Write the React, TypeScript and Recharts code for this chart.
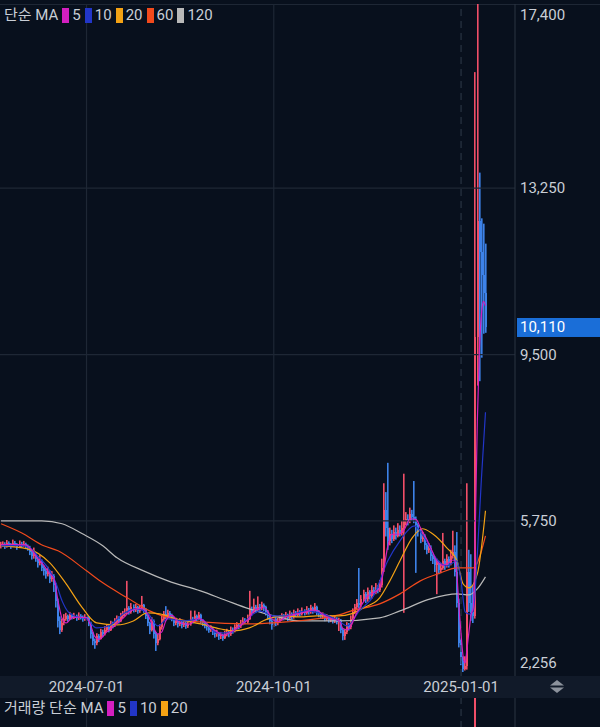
import React from 'react';
import { ComposedChart, Bar, Line, XAxis, YAxis, ReferenceLine } from 'recharts';

// ---------- categories (calendar days, crypto market trades daily) ----------
const START = Date.UTC(2024, 4, 20);
const TOTAL_DAYS = 253; // includes empty days on the right
const dates: string[] = Array.from({ length: TOTAL_DAYS }, (_, i) =>
  new Date(START + i * 86400000).toISOString().slice(0, 10)
);
const xTickDates = ['2024-07-01', '2024-10-01', '2025-01-01'];

// ---------- price series (KRW) ----------
const firstOpen = 5180;
const closes = [
  5200, 5230, 5180, 5250, 5210, 5190, 5260, 5220, 5170, 5240, 5200, 5230, 5180,
  5150, 5050, 4950, 5000, 4900, 4800, 4850, 4700, 4620, 4550, 4600, 4450, 4500, 4300,
  3950, 3500, 3300, 3450, 3550,
  3600, 3550, 3620, 3580, 3600, 3560, 3610, 3580, 3540, 3580, 3560,
  3450, 3200, 3050, 3000, 3150,
  3100, 3250, 3200, 3300, 3350, 3300, 3420, 3400, 3480, 3550, 3500, 3600, 3650, 3700, 3780,
  3700, 3820, 3750, 3800, 3720, 3780, 3850, 3750,
  3600, 3450, 3300, 3500, 3200, 3000, 3100,
  3350, 3550, 3650, 3600, 3680, 3620,
  3550, 3450, 3500, 3420, 3480, 3400, 3450, 3380, 3420, 3550, 3500, 3600, 3550, 3620, 3500,
  3450, 3400, 3350, 3300, 3320, 3250, 3200, 3220, 3150, 3180, 3120, 3200,
  3250, 3200, 3300, 3280, 3350, 3400, 3380, 3450, 3500, 3480, 3550,
  3750, 3700, 3800, 3750, 3820, 3780, 3850, 3800, 3700, 3600,
  3500, 3400, 3550, 3450, 3500,
  3550, 3600, 3580, 3620, 3560, 3650, 3600, 3680, 3640, 3700, 3660, 3720, 3680, 3750, 3700, 3780, 3720, 3800, 3700,
  3650, 3600, 3620, 3550, 3580, 3520, 3560, 3500, 3540, 3480, 3500,
  3300, 3150, 3250, 3400, 3350,
  3550, 3700, 3800, 3900, 3850, 4000, 4100, 3980, 4150, 4050, 4200, 4150, 4250, 4200, 4300,
  4700, 6000, 5600, 5300,
  5450, 5350, 5500, 5420, 5550, 5480, 5600,
  5750,
  5800, 5750, 5900, 5850, 5800, 5650,
  5500, 5350, 5400, 5200, 5100, 5150, 4950, 4900,
  4750, 4800, 4650, 4700,
  4850, 4750, 4900, 4800, 4950, 5050,
  4600, 3900, 3000, 2600, 2420, 2480, 4600, 3900, 3700, 3600, 9900, 12500, 11800, 11300, 10880, 10110,
];
const highs = [
  5280, 5290, 5270, 5320, 5290, 5250, 5330, 5300, 5250, 5310, 5280, 5300, 5260,
  5220, 5190, 5090, 5150, 5050, 4950, 4980, 4880, 4750, 4680, 4720, 4640, 4620, 4550,
  4350, 4000, 3600, 3550, 3650,
  3680, 3640, 3700, 3660, 3680, 3640, 3690, 3650, 3620, 3650, 3620,
  3600, 3480, 3250, 3100, 3220,
  3200, 3320, 3300, 3380, 3420, 3400, 3500, 3480, 3560, 3620, 3600, 3680, 3720, 3780, 4400,
  3830, 3900, 3870, 3880, 3840, 3860, 4060, 3880,
  3790, 3630, 3480, 3580, 3530, 3250, 3200,
  3420, 3620, 3720, 3830, 3750, 3720,
  3660, 3590, 3570, 3540, 3560, 3520, 3520, 3480, 3500, 3730, 3590, 3730, 3640, 3700, 3660,
  3540, 3490, 3440, 3390, 3400, 3360, 3290, 3300, 3250, 3250, 3210, 3270,
  3320, 3290, 3370, 3350, 3420, 3470, 3450, 3520, 3580, 3560, 3640,
  4175, 3820, 4000, 3860, 4050, 3880, 3930, 3890, 3840, 3740,
  3640, 3540, 3620, 3590, 3570,
  3620, 3670, 3650, 3700, 3660, 3730, 3690, 3750, 3720, 3780, 3740, 3800, 3760, 3830, 3790, 3860, 3820, 3900, 3840,
  3740, 3690, 3690, 3660, 3650, 3620, 3630, 3600, 3610, 3580, 3570,
  3540, 3340, 3320, 3470, 3450,
  3620, 3780, 3880, 3990, 4690, 4080, 4200, 4150, 4250, 4190, 4300, 4260, 4350, 4300, 4420,
  4900, 6600, 6400, 7060,
  5600, 5550, 5650, 5600, 5700, 5650, 5750,
  6815,
  5950, 5900, 6050, 6000, 6650, 5850,
  5700, 5560, 5500, 5450, 5250, 5250, 5200, 5000,
  4950, 4900, 4850, 4800,
  5480, 4900, 5000, 4950, 5100, 5530,
  5200, 5500, 4000, 3100, 2700, 2700, 6600, 5100, 5000, 4300, 15865, 17400, 13600, 12570, 12450, 12000,
];
const lows = [
  5130, 5170, 5120, 5150, 5170, 5120, 5160, 5170, 5100, 5140, 5150, 5170, 5120,
  5080, 4980, 4880, 4900, 4830, 4700, 4750, 4620, 4520, 4450, 4500, 4350, 4380, 4150,
  3800, 3350, 3200, 3250, 3400,
  3500, 3480, 3520, 3530, 3540, 3500, 3520, 3530, 3480, 3500, 3500,
  3380, 3100, 2950, 2870, 2950,
  3020, 3080, 3130, 3170, 3250, 3240, 3270, 3330, 3360, 3430, 3440, 3470, 3560, 3600, 3650,
  3640, 3660, 3690, 3700, 3660, 3680, 3740, 3680,
  3540, 3380, 3200, 3260, 3100, 2820, 2950,
  3060, 3300, 3500, 3540, 3560, 3560,
  3490, 3380, 3400, 3350, 3380, 3330, 3360, 3320, 3340, 3390, 3440, 3460, 3490, 3510, 3440,
  3380, 3330, 3280, 3230, 3250, 3180, 3120, 3140, 3070, 3090, 3050, 3090,
  3150, 3130, 3160, 3210, 3240, 3300, 3310, 3340, 3400, 3420, 3440,
  3520, 3620, 3660, 3680, 3700, 3710, 3740, 3720, 3620, 3520,
  3420, 3300, 3360, 3380, 3400,
  3450, 3500, 3510, 3530, 3490, 3510, 3530, 3550, 3580, 3590, 3600, 3620, 3620, 3640, 3640, 3660, 3660, 3690, 3630,
  3580, 3540, 3540, 3490, 3500, 3460, 3470, 3440, 3450, 3420, 3270,
  3220, 3060, 3070, 3200, 3280,
  3310, 3500, 3650, 3750, 3780, 3800, 3940, 3900, 3930, 3980, 4000, 4080, 4100, 4120, 4150,
  4250, 4600, 5400, 5100,
  5200, 5250, 5300, 5330, 5380, 5400, 5420,
  3680,
  5650, 5650, 5700, 5750, 5700, 4580,
  5400, 5250, 5280, 5100, 5000, 5030, 4850, 4780,
  4600, 4100, 4550, 4580,
  4650, 4650, 4700, 4700, 4750, 4900,
  4500, 3800, 2900, 2500, 2346, 2380, 2400, 3700, 3500, 3450, 3550, 8800, 8900, 9430, 9970, 9990,
];

// ---------- moving averages: [day index, value] ----------
const ma5Pts: [number, number][] = [
  [0, 5220], [6, 5220], [12, 5210], [15, 5100], [18, 4900], [21, 4750], [24, 4550], [26, 4450],
  [28, 3950], [30, 3550], [32, 3450], [35, 3570], [38, 3580], [42, 3570], [44, 3400], [46, 3150],
  [48, 3080], [52, 3250], [56, 3400], [60, 3560], [63, 3700], [66, 3760], [69, 3780], [72, 3650],
  [74, 3450], [77, 3200], [79, 3250], [81, 3500], [84, 3620], [87, 3480], [92, 3420], [95, 3500],
  [97, 3560], [100, 3480], [103, 3350], [106, 3260], [109, 3170], [113, 3250], [116, 3340],
  [119, 3450], [122, 3560], [124, 3720], [127, 3780], [129, 3800], [131, 3720], [133, 3550],
  [136, 3480], [140, 3590], [146, 3660], [150, 3700], [153, 3740], [156, 3720], [158, 3640],
  [161, 3570], [164, 3530], [166, 3510], [168, 3320], [170, 3300], [172, 3390], [174, 3610],
  [177, 3850], [180, 4050], [183, 4130], [186, 4230], [188, 4650], [190, 5180], [192, 5450],
  [195, 5450], [198, 5550], [201, 5800], [204, 5780], [206, 5600], [209, 5350], [212, 5050],
  [214, 4850], [217, 4750], [220, 4810], [222, 4870], [223, 4850], [224, 4500], [225, 3800],
  [226, 3200], [227, 2700], [228, 2550], [229, 2900], [230, 3300], [231, 3650], [232, 3800],
  [233, 5600], [234, 8000], [235, 9600], [236, 10400], [237, 10700], [238, 10600],
];
const ma10Pts: [number, number][] = [
  [0, 5190], [10, 5200], [14, 5150], [18, 4964], [24, 4626], [27, 4350], [30, 3949], [33, 3700],
  [36, 3610], [42, 3542], [47, 3339], [53, 3384], [60, 3655], [66, 3768], [72, 3678], [77, 3384],
  [82, 3542], [90, 3497], [98, 3542], [106, 3226], [112, 3226], [120, 3497], [127, 3723],
  [134, 3610], [140, 3610], [150, 3723], [158, 3655], [166, 3497], [170, 3384], [176, 3723],
  [183, 4062], [190, 4852], [196, 5303], [203, 5641], [208, 5371], [214, 4896], [219, 4739],
  [224, 4852], [226, 4400], [228, 3700], [230, 3650], [232, 3723], [234, 5000], [236, 6700],
  [238, 8200],
];
const ma20Pts: [number, number][] = [
  [0, 5190], [13, 5122], [24, 4806], [32, 4332], [40, 3791], [47, 3452], [57, 3407], [65, 3497],
  [72, 3678], [78, 3655], [86, 3542], [98, 3429], [108, 3316], [114, 3271], [122, 3339],
  [131, 3542], [139, 3610], [147, 3587], [155, 3610], [166, 3610], [172, 3655], [178, 3791],
  [186, 4017], [191, 4400], [196, 4852], [202, 5371], [207, 5574], [212, 5460], [219, 5145],
  [224, 4852], [227, 4332], [230, 4242], [234, 4558], [238, 5979],
];
const ma60Pts: [number, number][] = [
  [0, 5686], [10, 5483], [21, 5190], [28, 5077], [42, 4626], [50, 4355], [62, 4017], [73, 3723],
  [85, 3542], [98, 3474], [122, 3429], [140, 3474], [166, 3632], [172, 3723], [186, 3881],
  [196, 4107], [206, 4400], [216, 4580], [224, 4693], [232, 4693], [238, 5415],
];
const ma120Pts: [number, number][] = [
  [0, 5754], [20, 5754], [30, 5686], [40, 5460], [50, 5190], [57, 4919], [70, 4626], [82, 4400],
  [98, 4174], [110, 3970], [122, 3768], [134, 3610], [147, 3497], [166, 3497], [186, 3565],
  [196, 3723], [211, 3994], [224, 4107], [230, 4084], [234, 4220], [238, 4490],
];

// ---------- volume (only the right end rises into view) ----------
const volStart = 226;
const volTail = [40, 35, 30, 60, 120, 70, 50, 980, 520, 310, 180, 140, 90];

// ---------- axis ----------
const yMin = 2256;
const yMax = 17400;
const lastPrice = 10110;
const yTicks = [2256, 5750, 9500, 10110, 13250, 17400];
const gridPrices = [5750, 9500, 13250];

// ---------- styles ----------
const BG = '#08101d';
const BAND = '#111a29';
const GRID = '#1e2735';
const AXIS = '#2a3443';
const TXT = '#c9ced6';
const UP = '#f04e68';
const DOWN = '#3d82e8';
const TAG = '#1a6ed8';
const FONT = "Roboto, 'Noto Sans CJK KR', sans-serif";
const C5 = '#d41fc0';
const C10 = '#2236c8';
const C20 = '#f4a214';
const C60 = '#f24a1c';
const C120 = '#b9b9b9';

type Row = {
  d: string;
  o: number | null;
  c: number | null;
  h: number | null;
  l: number | null;
  range: [number, number] | null;
  ma5: number | null;
  ma10: number | null;
  ma20: number | null;
  ma60: number | null;
  ma120: number | null;
  vol: number | null;
};

const rows: Row[] = dates.map((d, i) => {
  const has = i < closes.length;
  return {
    d,
    o: has ? (i === 0 ? firstOpen : closes[i - 1]) : null,
    c: has ? closes[i] : null,
    h: has ? highs[i] : null,
    l: has ? lows[i] : null,
    range: has ? [lows[i], highs[i]] : null,
    ma5: null,
    ma10: null,
    ma20: null,
    ma60: null,
    ma120: null,
    vol: null,
  };
});
ma5Pts.forEach(([i, v]) => (rows[i].ma5 = v));
ma10Pts.forEach(([i, v]) => (rows[i].ma10 = v));
ma20Pts.forEach(([i, v]) => (rows[i].ma20 = v));
ma60Pts.forEach(([i, v]) => (rows[i].ma60 = v));
ma120Pts.forEach(([i, v]) => (rows[i].ma120 = v));
volTail.forEach((v, k) => (rows[volStart + k].vol = v));

const fmt = (v: number) => v.toLocaleString('en-US');

const Candle = (props: any) => {
  const { x, y, width, height, payload } = props;
  if (!payload || payload.h == null || height == null) return null;
  const { o, c, h, l } = payload;
  const px = Math.round(x + width / 2);
  const span = h - l || 1;
  const yAt = (v: number) => y + ((h - v) / span) * height;
  const color = c >= o ? UP : DOWN;
  const top = yAt(Math.max(o, c));
  const bot = yAt(Math.min(o, c));
  return (
    <g>
      <rect x={px - 1} y={y} width={1.6} height={Math.max(1, height)} fill={color} />
      <rect x={px - 1} y={top} width={2} height={Math.max(1, bot - top)} fill={color} shapeRendering="crispEdges" />
    </g>
  );
};

const VolBar = (props: any) => {
  const { x, y, width, height, payload } = props;
  if (!payload || payload.vol == null) return null;
  const color = payload.c >= payload.o ? UP : DOWN;
  const px = Math.round(x + width / 2);
  return <rect x={px - 1} y={y} width={2} height={height} fill={color} shapeRendering="crispEdges" />;
};

const XTick = (p: any) => (
  <text x={p.x} y={p.y + 16} textAnchor="middle" fill={TXT} fontSize={15} fontFamily={FONT}>
    {p.payload.value}
  </text>
);

const YTick = (p: any) => {
  const v = p.payload.value;
  if (v === lastPrice) {
    return (
      <g>
        <rect x={p.x - 3} y={p.y - 9.5} width={83} height={19} fill={TAG} />
        <text x={p.x} y={p.y + 5} fill="#ffffff" fontSize={15} fontFamily={FONT} textAnchor="start">
          {fmt(v)}
        </text>
      </g>
    );
  }
  let dy = 5;
  if (v === yMax) dy = 16;
  if (v === yMin) dy = -8;
  return (
    <text x={p.x} y={p.y + dy} fill={TXT} fontSize={15} fontFamily={FONT} textAnchor="start">
      {fmt(v)}
    </text>
  );
};

const Sq = ({ c }: { c: string }) => (
  <span style={{ display: 'inline-block', width: 7, height: 15, background: c, margin: '0 3px 0 4px' }} />
);

const legendStyle: React.CSSProperties = {
  position: 'absolute',
  left: 4,
  fontSize: 15,
  color: TXT,
  display: 'flex',
  alignItems: 'center',
  lineHeight: '17px',
  whiteSpace: 'nowrap',
};

export default function App() {
  return (
    <div
      style={{
        position: 'fixed',
        left: 0,
        top: 0,
        width: 600,
        height: 727,
        overflow: 'hidden',
        background: BG,
        fontFamily: FONT,
      }}
    >
      <div style={{ position: 'absolute', left: 0, top: 4, width: 600, height: 1, background: GRID }} />
      <div style={{ position: 'absolute', left: 0, top: 676, width: 600, height: 22, background: BAND }} />

      <div style={{ position: 'absolute', left: 0, top: 0 }}>
        <ComposedChart width={600} height={698} data={rows} margin={{ top: 4, right: 0, bottom: 0, left: 0 }}>
          <XAxis
            dataKey="d"
            type="category"
            ticks={xTickDates}
            interval={0}
            tick={XTick}
            tickLine={false}
            axisLine={false}
            height={22}
            tickSize={0}
            tickMargin={0}
          />
          <YAxis
            orientation="right"
            width={85}
            domain={[yMin, yMax]}
            ticks={yTicks}
            interval={0}
            allowDataOverflow
            tick={YTick}
            tickLine={false}
            tickSize={5}
            tickMargin={0}
            axisLine={{ stroke: AXIS }}
          />
          {gridPrices.map((v) => (
            <ReferenceLine key={v} y={v} stroke={GRID} strokeWidth={1.2} />
          ))}
          <ReferenceLine x="2024-07-01" stroke={GRID} strokeWidth={1.2} />
          <ReferenceLine x="2024-10-01" stroke={GRID} strokeWidth={1.2} />
          <ReferenceLine x="2025-01-01" stroke={AXIS} strokeWidth={1.2} strokeDasharray="7 5" />
          <Bar dataKey="range" shape={Candle} isAnimationActive={false} />
          <Line dataKey="ma120" stroke={C120} strokeWidth={1.2} dot={false} connectNulls type="monotone" isAnimationActive={false} />
          <Line dataKey="ma60" stroke={C60} strokeWidth={1.2} dot={false} connectNulls type="monotone" isAnimationActive={false} />
          <Line dataKey="ma20" stroke={C20} strokeWidth={1.2} dot={false} connectNulls type="monotone" isAnimationActive={false} />
          <Line dataKey="ma10" stroke={C10} strokeWidth={1.2} dot={false} connectNulls type="monotone" isAnimationActive={false} />
          <Line dataKey="ma5" stroke={C5} strokeWidth={1.2} dot={false} connectNulls type="monotone" isAnimationActive={false} />
        </ComposedChart>
      </div>

      <div style={{ position: 'absolute', left: 0, top: 698 }}>
        <ComposedChart width={600} height={150} data={rows} margin={{ top: 0, right: 0, bottom: 0, left: 0 }}>
          <XAxis dataKey="d" type="category" hide />
          <YAxis orientation="right" width={85} domain={[0, 'dataMax']} tick={false} tickLine={false} axisLine={{ stroke: AXIS }} />
          <ReferenceLine x="2024-07-01" stroke={GRID} strokeWidth={1.2} />
          <ReferenceLine x="2024-10-01" stroke={GRID} strokeWidth={1.2} />
          <ReferenceLine x="2025-01-01" stroke={AXIS} strokeWidth={1.2} strokeDasharray="7 5" />
          <Bar dataKey="vol" shape={VolBar} isAnimationActive={false} />
        </ComposedChart>
      </div>

      <svg style={{ position: 'absolute', left: 548, top: 679 }} width={18} height={16}>
        <polygon points="9,1 2,6.5 16,6.5" fill="#8c929c" />
        <polygon points="2,8.5 16,8.5 9,14" fill="#8c929c" />
      </svg>

      <div style={{ ...legendStyle, top: 7 }}>
        <span>단순 MA</span>
        <Sq c={C5} />
        <span>5</span>
        <Sq c={C10} />
        <span>10</span>
        <Sq c={C20} />
        <span>20</span>
        <Sq c={C60} />
        <span>60</span>
        <Sq c={C120} />
        <span>120</span>
      </div>

      <div style={{ ...legendStyle, top: 700 }}>
        <span>거래량 단순 MA</span>
        <Sq c={C5} />
        <span>5</span>
        <Sq c={C10} />
        <span>10</span>
        <Sq c={C20} />
        <span>20</span>
      </div>
    </div>
  );
}
